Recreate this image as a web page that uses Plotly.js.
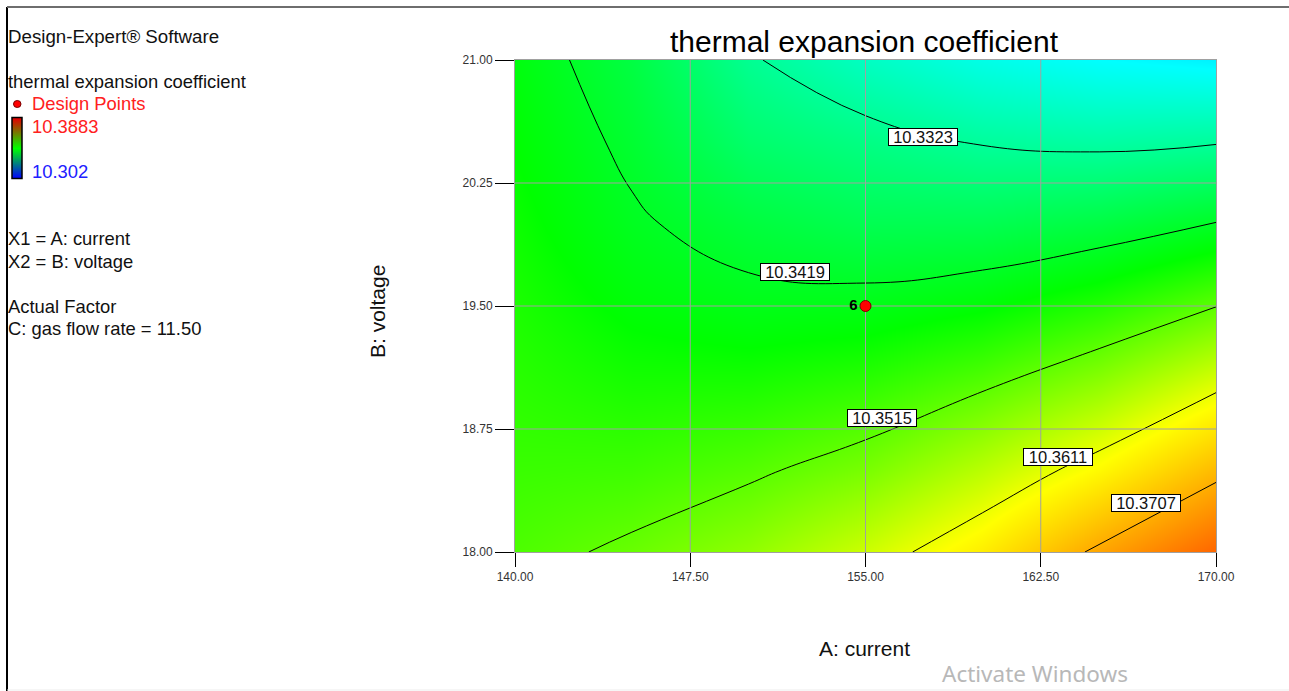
<!DOCTYPE html>
<html><head><meta charset="utf-8">
<script src="https://cdn.plot.ly/plotly-3.0.1.min.js"></script>
<style>html,body{margin:0;padding:0;background:#fff;}#chart{width:1289px;height:691px;}</style>
</head><body><div id="chart"></div>
<script>
// ---- data ----
const currentA = [140, 145, 150, 155, 160, 165, 170];          // A: current
const voltageB = [18, 18.5, 19, 19.5, 20, 20.5, 21];           // B: voltage
// thermal expansion coefficient, rows = voltage, columns = current
const rowB18_0 = [10.3503, 10.3522, 10.3549, 10.3590, 10.3642, 10.3716, 10.3780];
const rowB18_5 = [10.3490, 10.3493, 10.3508, 10.3533, 10.3577, 10.3629, 10.3694];
const rowB19_0 = [10.3480, 10.3468, 10.3470, 10.3484, 10.3512, 10.3552, 10.3606];
const rowB19_5 = [10.3470, 10.3445, 10.3432, 10.3433, 10.3447, 10.3475, 10.3514];
const rowB20_0 = [10.3460, 10.3425, 10.3400, 10.3383, 10.3383, 10.3396, 10.3421];
const rowB20_5 = [10.3450, 10.3410, 10.3361, 10.3340, 10.3320, 10.3313, 10.3320];
const rowB21_0 = [10.3440, 10.3395, 10.3328, 10.3287, 10.3256, 10.3236, 10.3225];
const contourLevels = [10.3323, 10.3419, 10.3515, 10.3611, 10.3707];
const xTickVals = [140, 147.5, 155, 162.5, 170];
const yTickVals = [18, 18.75, 19.5, 20.25, 21];
const designA = [155];
const designB = [19.5];
const designCount = ['6'];
const legendMax = 10.3883;
const legendMin = 10.302;
const legendLines = ['Design-Expert® Software', 'thermal expansion coefficient', 'Design Points',
  'X1 = A: current', 'X2 = B: voltage', 'Actual Factor', 'C: gas flow rate = 11.50'];

const thermalZ = [rowB18_0, rowB18_5, rowB19_0, rowB19_5, rowB20_0, rowB20_5, rowB21_0];

// ---- layout helpers (pixel -> paper) ----
const W = 1289, H = 691;
const X = p => p / W;
const Y = p => 1 - p / H;
const FONT = 'Liberation Sans, Arial, sans-serif';

const surfaceScale = [[0, 'rgb(0,0,255)'], [0.25, 'rgb(0,255,255)'], [0.5, 'rgb(0,255,0)'],
                      [0.7, 'rgb(255,255,0)'], [1, 'rgb(255,0,0)']];
const legendScale = [[0, 'rgb(0,0,255)'], [0.5, 'rgb(0,255,0)'], [1, 'rgb(225,0,0)']];

// grid lines (drawn as a trace so they sit above the colour field but below the marks)
const gridX = [], gridY = [];
xTickVals.slice(1, -1).forEach(v => { gridX.push(v, v, null); gridY.push(yTickVals[0], yTickVals[yTickVals.length - 1], null); });
yTickVals.slice(1, -1).forEach(v => { gridX.push(xTickVals[0], xTickVals[xTickVals.length - 1], null); gridY.push(v, v, null); });

const traces = [
  { type: 'heatmap', x: currentA, y: voltageB, z: thermalZ, zsmooth: 'best',
    colorscale: surfaceScale, zmin: legendMin, zmax: legendMax, showscale: false, hoverinfo: 'skip' },
  { type: 'scatter', mode: 'lines', x: gridX, y: gridY, hoverinfo: 'skip', showlegend: false,
    line: { color: '#a0a0a0', width: 1 } },
  { type: 'contour', x: currentA, y: voltageB, z: thermalZ, showscale: false, hoverinfo: 'skip',
    contours: { start: contourLevels[0], end: contourLevels[contourLevels.length - 1] + 0.00001,
                size: contourLevels[1] - contourLevels[0], coloring: 'none', showlabels: false },
    line: { color: '#000', width: 1, smoothing: 1.3 } },
  { type: 'scatter', mode: 'markers+text', x: designA, y: designB, text: designCount,
    textposition: 'middle left', cliponaxis: false, hoverinfo: 'skip', showlegend: false,
    textfont: { family: FONT, size: 15, color: '#000', weight: 'bold' },
    marker: { size: 11, color: '#ff0000', line: { color: '#7a0000', width: 1 } } },
  // legend colour bar (low -> high)
  { type: 'heatmap', xaxis: 'x2', yaxis: 'y2', x: [0, 1], y: [legendMin, legendMax],
    z: [[legendMin, legendMin], [legendMax, legendMax]], zsmooth: 'best', colorscale: legendScale,
    zmin: legendMin, zmax: legendMax, showscale: false, hoverinfo: 'skip' }
];

const shapes = [];
// legend bar outline
shapes.push({ type: 'rect', xref: 'paper', yref: 'paper', x0: X(12), x1: X(22), y0: Y(178.5), y1: Y(117.5),
  line: { color: '#000', width: 1.5 } });
// outer frame of the window
shapes.push({ type: 'line', xref: 'paper', yref: 'paper', x0: X(7), x1: X(7), y0: Y(7), y1: Y(691),
  line: { color: '#000', width: 2 } });
shapes.push({ type: 'line', xref: 'paper', yref: 'paper', x0: X(7), x1: X(1289), y0: Y(7), y1: Y(7),
  line: { color: '#6e6e6e', width: 2 } });
shapes.push({ type: 'line', xref: 'paper', yref: 'paper', x0: X(7), x1: X(1289), y0: Y(690), y1: Y(690),
  line: { color: '#ededed', width: 1 } });
// legend design point dot
shapes.push({ type: 'circle', xref: 'paper', yref: 'paper', x0: X(13.5), x1: X(21), y0: Y(100.5), y1: Y(107.5),
  fillcolor: '#ff0000', line: { color: '#7a0000', width: 1 } });

const ann = [];
function txt(t, px, py, opts) {
  ann.push(Object.assign({ text: t, xref: 'paper', yref: 'paper', x: X(px), y: Y(py), showarrow: false,
    xanchor: 'left', yanchor: 'middle', font: { family: FONT, size: 18.4, color: '#111' } }, opts || {}));
}
txt(legendLines[0], 6, 37, { font: { family: FONT, size: 18.7, color: '#111' } });
txt(legendLines[1], 6, 82);
txt(legendLines[2], 30, 104, { font: { family: FONT, size: 18.4, color: '#ff2020' } });
txt(String(legendMax), 30, 127, { font: { family: FONT, size: 18.4, color: '#ff2020' } });
txt(String(legendMin), 30, 171, { font: { family: FONT, size: 18.4, color: '#2020ff' } });
txt(legendLines[3], 6, 239);
txt(legendLines[4], 6, 261);
txt(legendLines[5], 6, 306);
txt(legendLines[6], 6, 328);
txt('A: current', 864, 648, { xanchor: 'center', font: { family: FONT, size: 21, color: '#111' } });
txt('B: voltage', 377, 311, { xanchor: 'center', textangle: -90, font: { family: FONT, size: 21, color: '#111' } });
txt('Activate Windows', 1035, 673, { xanchor: 'center', font: { family: 'Noto Sans, sans-serif', size: 22.5, color: '#b8b8b8' } });

// contour level labels (boxed, as in Design-Expert)
const labelSpots = [[157.47, 20.53], [151.99, 19.71], [155.71, 18.82], [163.25, 18.58], [167.02, 18.30]];
contourLevels.forEach((lv, i) => {
  ann.push({ text: lv.toFixed(4), xref: 'x', yref: 'y', x: labelSpots[i][0], y: labelSpots[i][1],
    showarrow: false, bgcolor: '#fff', bordercolor: '#000', borderwidth: 1, borderpad: 0,
    width: 68, height: 16, font: { family: FONT, size: 16.5, color: '#111' } });
});

const layout = {
  width: W, height: H, margin: { l: 0, r: 0, t: 0, b: 0 }, paper_bgcolor: '#fff', plot_bgcolor: '#fff',
  showlegend: false, font: { family: FONT, color: '#222' },
  title: { text: 'thermal expansion coefficient', font: { family: FONT, size: 30, color: '#000' },
    x: X(864), xanchor: 'center', y: Y(41), yanchor: 'middle', xref: 'paper', yref: 'container' },
  xaxis: { domain: [X(515), X(1216)], range: [140, 170], tickvals: xTickVals, tickformat: '.2f',
    ticks: 'outside', ticklen: 14, tickcolor: '#000', tickwidth: 1, showgrid: false, zeroline: false,
    showline: true, mirror: true, linecolor: '#a0a0a0', linewidth: 1,
    tickfont: { family: FONT, size: 12, color: '#333' }, fixedrange: true },
  yaxis: { domain: [Y(552), Y(60)], range: [18, 21], tickvals: yTickVals, tickformat: '.2f',
    ticks: 'outside', ticklen: 19, tickcolor: '#000', tickwidth: 1, showgrid: false, zeroline: false,
    showline: true, mirror: true, linecolor: '#a0a0a0', linewidth: 1,
    tickfont: { family: FONT, size: 12, color: '#333' }, fixedrange: true },
  xaxis2: { domain: [X(12), X(22)], range: [0, 1], visible: false, fixedrange: true, anchor: 'y2' },
  yaxis2: { domain: [Y(178), Y(118)], range: [legendMin, legendMax], visible: false, fixedrange: true, anchor: 'x2' },
  shapes: shapes, annotations: ann
};

Plotly.newPlot('chart', traces, layout, { displayModeBar: false, staticPlot: true });
</script></body></html>
